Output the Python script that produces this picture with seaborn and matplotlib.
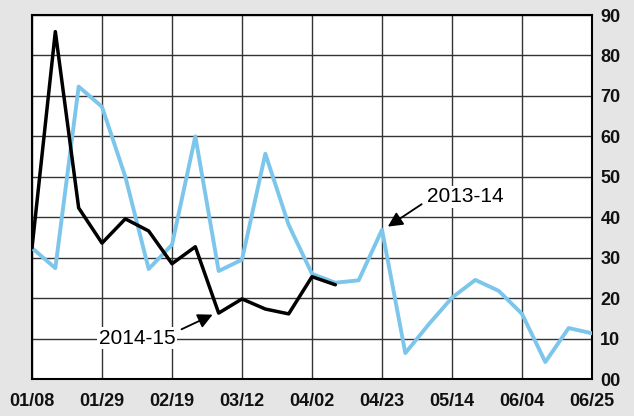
import numpy as np
import pandas as pd
import matplotlib
matplotlib.use("Agg")
import matplotlib.pyplot as plt
import seaborn as sns

sns.set_theme(style="white")
plt.rcParams['font.family'] = ['Liberation Sans', 'DejaVu Sans']

# --- DATA ---
# weekly observations, 01/08 .. 06/25
weeks = list(range(25))
tick_labels = ["01/08", "01/29", "02/19", "03/12", "04/02", "04/23", "05/14", "06/04", "06/25"]
season_2013_14 = [32.4, 27.4, 72.3, 67.3, 50.0, 27.2, 33.2, 60.0, 26.7, 29.5, 55.7, 38.1, 26.0,
                  23.8, 24.4, 36.9, 6.4, 13.5, 20.1, 24.5, 21.8, 16.1, 4.2, 12.6, 11.3]
season_2014_15 = [32.4, 85.9, 42.3, 33.6, 39.6, 36.6, 28.5, 32.7, 16.3, 19.8, 17.3, 16.1, 25.3, 23.3]
y_ticks = [0, 10, 20, 30, 40, 50, 60, 70, 80, 90]
y_tick_labels = ["00", "10", "20", "30", "40", "50", "60", "70", "80", "90"]

df_a = pd.DataFrame({"week": weeks, "value": season_2013_14})
df_b = pd.DataFrame({"week": weeks[:len(season_2014_15)], "value": season_2014_15})

# --- PLOT ---
fig = plt.figure(figsize=(6.34, 4.16), dpi=100, facecolor="#e5e5e5")
ax = fig.add_axes([32 / 634, 37 / 416, 560 / 634, 364 / 416])
ax.set_facecolor("white")

sns.lineplot(data=df_a, x="week", y="value", color="#7cc6ec", lw=2.8, ax=ax, zorder=3)
sns.lineplot(data=df_b, x="week", y="value", color="black", lw=2.5, ax=ax, zorder=4)

ax.set_xlim(0, 24)
ax.set_ylim(0, 90)
ax.set_xticks(weeks[::3])
ax.set_xticklabels(tick_labels, fontsize=13, fontweight="bold", color="#111111")
ax.set_xticks(weeks, minor=True)
ax.set_yticks(y_ticks)
ax.set_yticklabels(y_tick_labels, fontsize=13, fontweight="bold", color="#111111")
ax.yaxis.tick_right()
ax.tick_params(axis="x", which="major", direction="in", length=0, pad=10)
ax.tick_params(axis="x", which="minor", direction="in", length=4, width=1, color="#555555")
ax.tick_params(axis="y", length=0, pad=6)
ax.set_xlabel("")
ax.set_ylabel("")

ax.grid(True, which="major", color="#333333", lw=1)
for s in ax.spines.values():
    s.set_color("black")
    s.set_linewidth(1.5)

# Labels with arrows
arrow = dict(arrowstyle="-|>", color="black", lw=1.3, mutation_scale=22)
ax.annotate("", xy=(15.15, 37.3), xytext=(16.8, 43.6), arrowprops=arrow, zorder=6)
ax.text(18.56, 45.0, "2013-14", fontsize=15, ha="center", va="center", color="black", zorder=7,
        bbox=dict(facecolor="white", edgecolor="none", pad=1))
ax.annotate("", xy=(7.85, 16.2), xytext=(6.3, 12.0), arrowprops=arrow, zorder=6)
ax.text(4.5, 10.1, "2014-15", fontsize=15, ha="center", va="center", color="black", zorder=7,
        bbox=dict(facecolor="white", edgecolor="none", pad=1))

plt.savefig("out.png", dpi=100, facecolor=fig.get_facecolor())
